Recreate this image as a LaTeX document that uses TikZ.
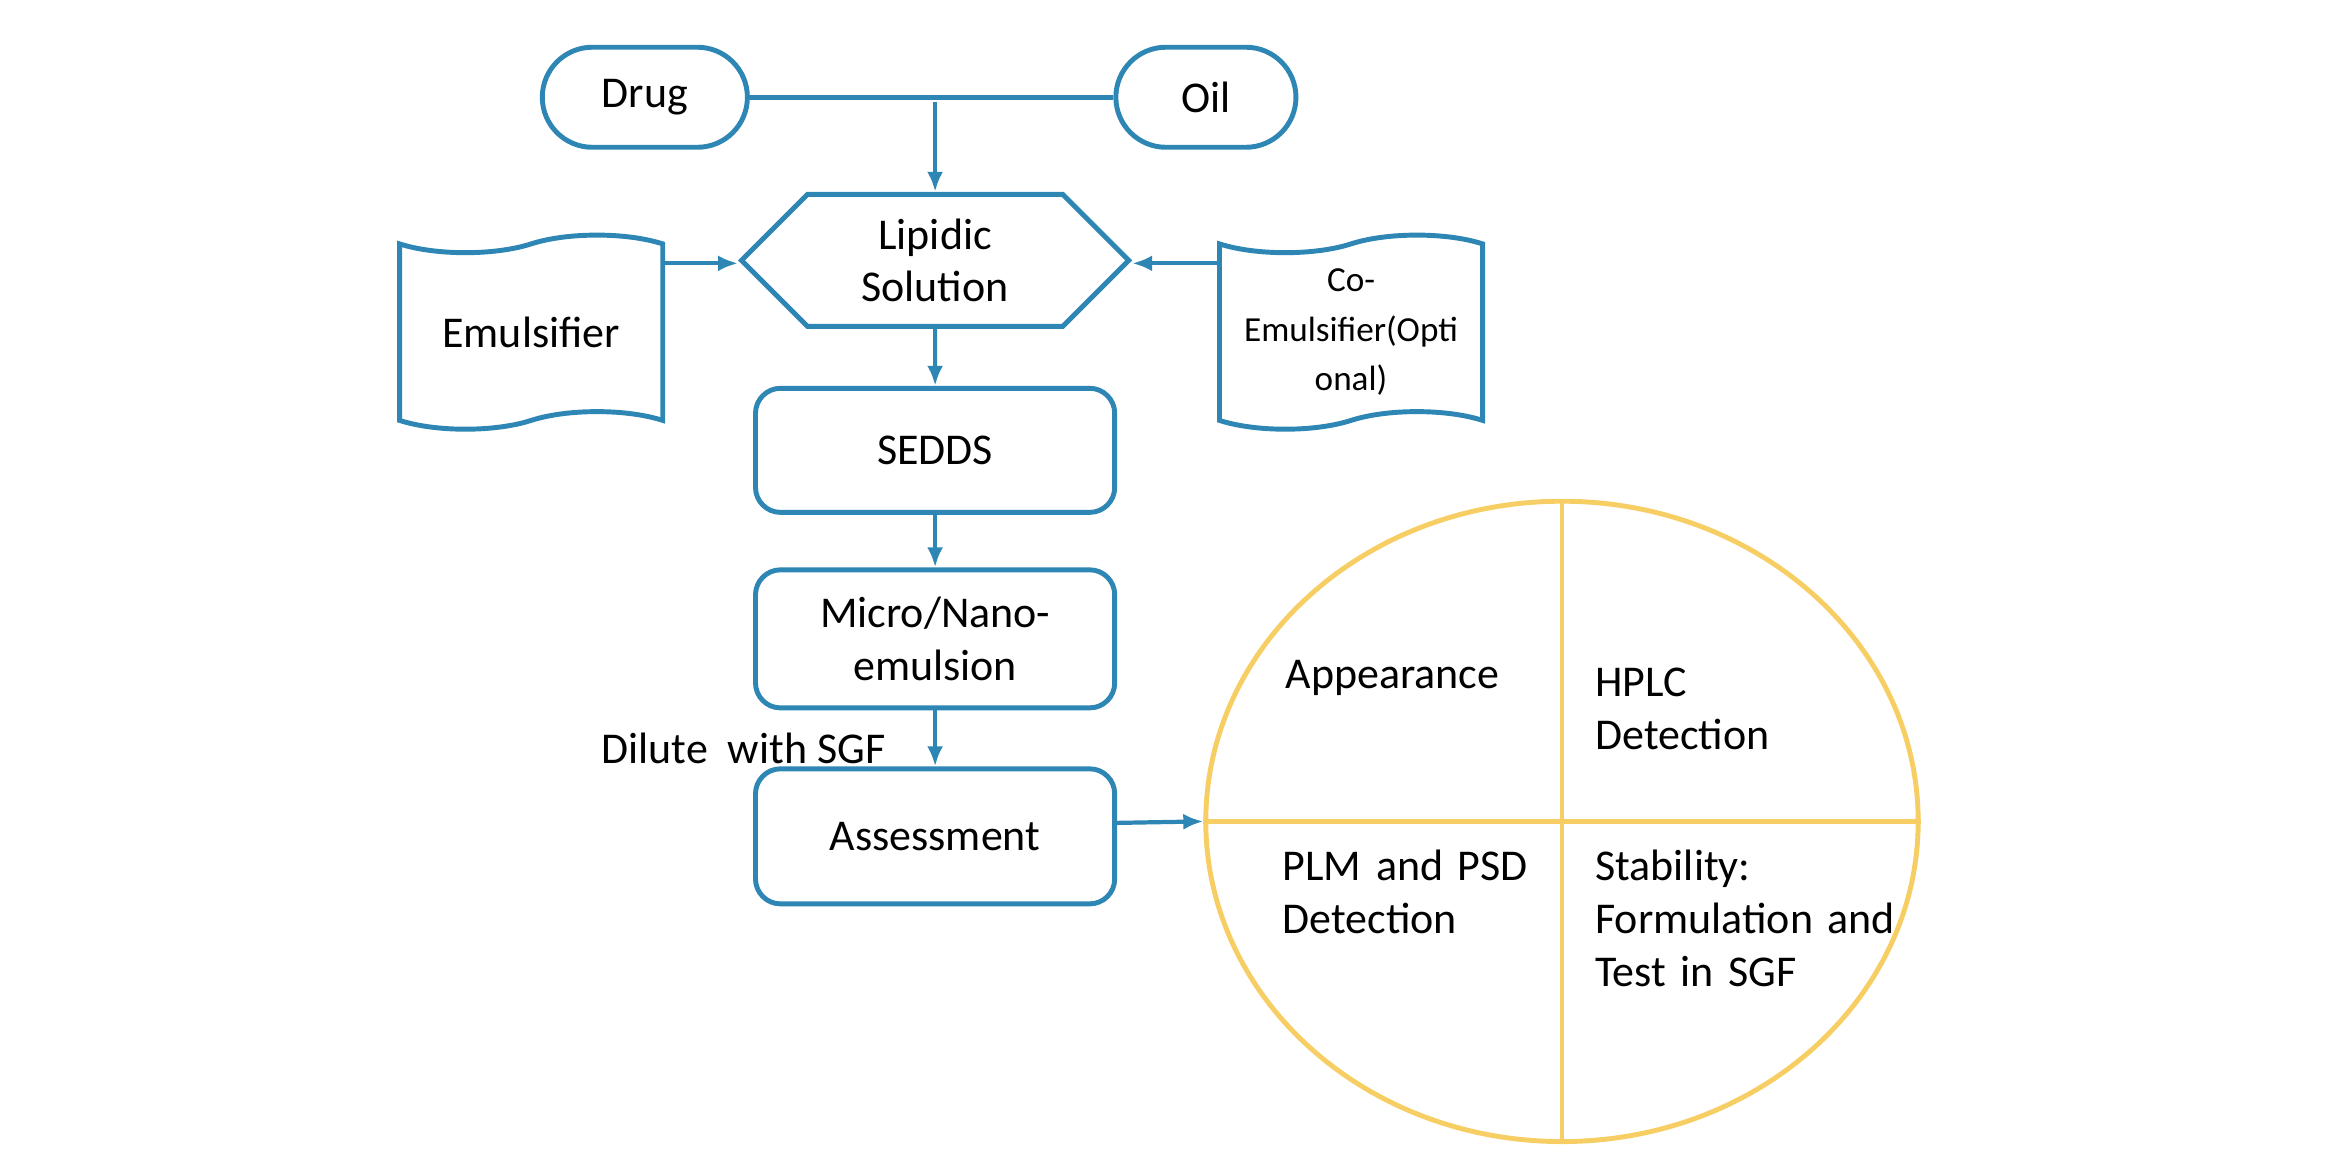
\documentclass[tikz,border=0pt]{standalone}
\usepackage{fontspec}
\setmainfont{Carlito}
\usetikzlibrary{shapes.geometric, shapes.symbols, arrows.meta}
\definecolor{flowblue}{RGB}{46,134,180}
\definecolor{gold}{RGB}{246,206,100}
\tikzstyle{stadium} = [rectangle, rounded corners=0.5cm, minimum width=2cm, minimum height=1cm, text centered, draw=flowblue, line width=1.4pt]
\tikzstyle{process} = [rectangle, rounded corners=0.25cm, minimum width=3.59cm, minimum height=1.3cm, text centered, align=center, draw=flowblue, line width=1.4pt]
\tikzstyle{ingredient} = [tape, tape bend top=in and out, tape bend bottom=in and out, minimum width=2.63cm, minimum height=1.94cm, align=center, draw=flowblue, line width=1.4pt]
\tikzstyle{arrow} = [flowblue, line width=1.2pt, -{Latex[length=2mm, width=1.6mm]}]
\tikzstyle{quarter} = [anchor=north west, align=left, text width=3cm]

\begin{document}
\begin{tikzpicture}
[x=0.01496cm, y=-0.01496cm, font=\fontsize{12.5}{15}\selectfont]
\useasboundingbox (0,0) rectangle (1560,780);

\node (drug) [stadium, minimum width=2.05cm] at (431,65) {Drug};
\node (oil) [stadium, minimum width=1.8cm] at (806,65) {Oil};
\node (lipid) [signal, signal to=east and west, minimum width=3.87cm, minimum height=1.32cm, align=center, draw=flowblue, line width=1.4pt] at (625,174) {Lipidic\\Solution};
\node (emul) [ingredient] at (355,222) {Emulsifier};
\node (coemul) [ingredient, font=\fontsize{10}{14}\selectfont] at (903,222) {Co-\\Emulsifier(Opti\\onal)};
\node (sedds) [process, minimum height=1.24cm] at (625,301) {SEDDS};
\node (micro) [process, minimum height=1.38cm] at (625,427) {Micro/Nano-\\emulsion};
\node (assess) [process, minimum height=1.35cm] at (625,559) {Assessment};
\node (dilute) at (497,500) {Dilute\ \ with SGF};

\node (eval) [ellipse, minimum width=7.12cm, minimum height=6.4cm, draw=gold, line width=1.4pt] at (1044,549) {};
\draw [gold, line width=1.4pt] (eval.north) -- (eval.south);
\draw [gold, line width=1.4pt] (eval.west) -- (eval.east);
\node (appear) [anchor=west] at (851,453) {Appearance};
\node (hplc) [quarter] at (1058,438) {HPLC\\Detection};
\node (plm) [quarter] at (849,560) {PLM and PSD\\Detection};
\node (stab) [quarter] at (1058,560) {Stability:\\Formulation and\\Test in SGF};

\coordinate (join) at (625,68);
\draw [flowblue, line width=1.4pt] (drug) -- (oil);
\draw [arrow] (join) -- (lipid.north);
\draw [arrow] (emul.east |- 0,176) -- (lipid.west |- 0,176);
\draw [arrow] (coemul.west |- 0,176) -- (lipid.east |- 0,176);
\draw [arrow] (lipid) -- (sedds);
\draw [arrow] (sedds) -- (micro);
\draw [arrow] (micro) -- (assess);
\draw [arrow] (assess.east |- 0,550) -- (eval.west);

\end{tikzpicture}
\end{document}
